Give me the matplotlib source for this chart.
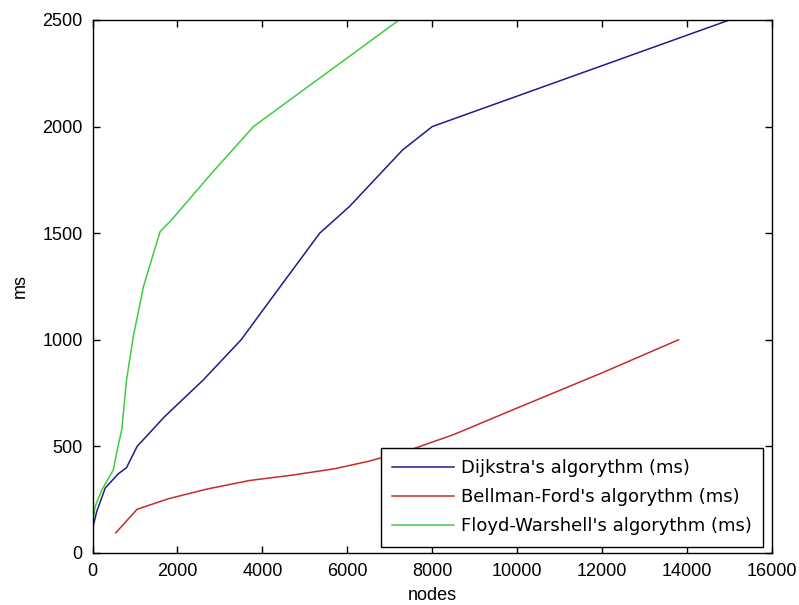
import matplotlib
matplotlib.use("Agg")
import matplotlib.pyplot as plt

# values (nodes -> ms)
dijkstra_nodes = [20, 100, 300, 600, 800, 1050, 1700, 2600, 3500, 4200, 5350, 6050, 7300, 8000, 15000]
dijkstra_ms = [130, 195, 305, 370, 400, 500, 640, 810, 1000, 1190, 1500, 1625, 1890, 2000, 2500]

bellman_nodes = [550, 1050, 1800, 2700, 3700, 4700, 5700, 6500, 7500, 8500, 10000, 12000, 13800]
bellman_ms = [95, 205, 255, 300, 340, 365, 395, 430, 485, 555, 680, 845, 1000]

floyd_nodes = [10, 60, 220, 490, 600, 690, 800, 960, 1200, 1590, 1860, 2800, 3790, 7220]
floyd_ms = [150, 217, 296, 390, 500, 580, 810, 1015, 1250, 1507, 1562, 1780, 2000, 2500]

labels = ["Dijkstra's algorythm (ms)",
          "Bellman-Ford's algorythm (ms)",
          "Floyd-Warshell's algorythm (ms)"]
colors = ["#1c1c8c", "#c42c2c", "#3fcc3f"]

plt.rcParams['font.family'] = ['Liberation Sans', 'DejaVu Sans']
fs = 13

fig = plt.figure(figsize=(7.99, 6.05), dpi=100)
ax = fig.add_axes([0.1158, 0.086, 0.8504, 0.881])

ax.plot(dijkstra_nodes, dijkstra_ms, color=colors[0], lw=1.1, label=labels[0])
ax.plot(bellman_nodes, bellman_ms, color=colors[1], lw=1.1, label=labels[1])
ax.plot(floyd_nodes, floyd_ms, color=colors[2], lw=1.1, label=labels[2])

ax.set_xlim(0, 16000)
ax.set_ylim(0, 2500)
ax.set_xticks(range(0, 16001, 2000))
ax.set_yticks(range(0, 2501, 500))
ax.tick_params(direction='in', length=5, width=1, top=True, right=True,
               labelsize=fs, pad=7, colors='black')
for sp in ax.spines.values():
    sp.set_linewidth(1.0)

ax.set_xlabel('nodes', fontsize=fs, labelpad=5)
ax.set_ylabel('ms', fontsize=fs, labelpad=10)

leg = ax.legend(loc='lower right', bbox_to_anchor=(0.987, 0.012), borderaxespad=0,
                prop={'family': 'DejaVu Sans', 'size': 13},
                frameon=True, fancybox=False, framealpha=1,
                edgecolor='black', handlelength=3.4, handletextpad=0.4,
                labelspacing=0.62, borderpad=0.62)
leg.get_frame().set_linewidth(1.0)

fig.savefig('out.png', dpi=100)
